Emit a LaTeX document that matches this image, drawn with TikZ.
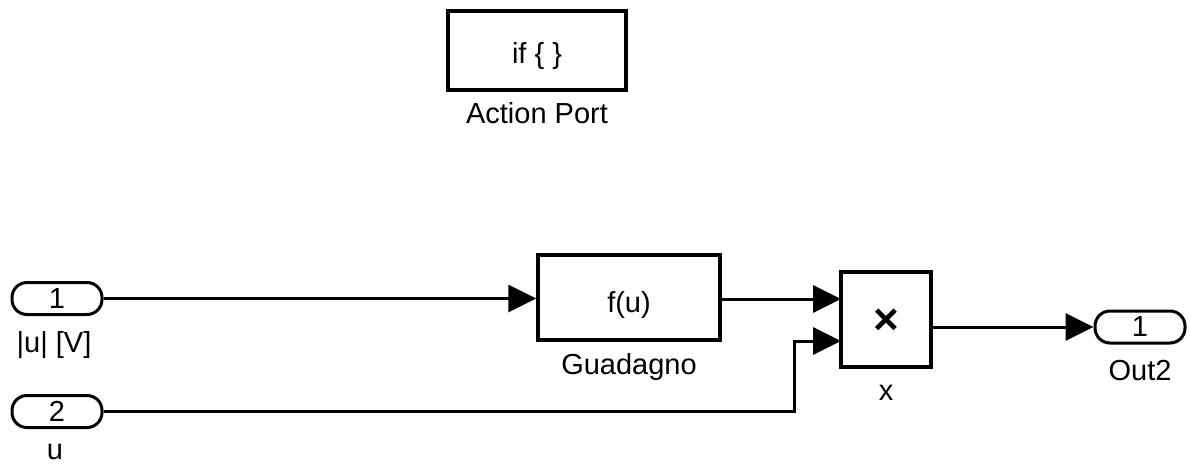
\documentclass[tikz,border=0pt]{standalone}
\usepackage{fontspec}
\setmainfont{Liberation Sans}
\usetikzlibrary{arrows.meta}
\begin{document}
\begin{tikzpicture}[x=1pt,y=-1pt,
  every node/.style={font=\fontsize{29pt}{34pt}\selectfont, inner sep=0pt},
  block/.style={draw, line width=3.5pt, rectangle, fill=white},
  port/.style={draw, line width=3pt, rounded corners=15pt, minimum width=90pt, minimum height=32pt},
  txt/.style={anchor=base},
  wire/.style={line width=3pt},
  sig/.style={wire, -{Triangle[length=28pt,width=27pt]}}
]
\useasboundingbox (0,0) rectangle (1190,466);

% Action port block
\node[block, minimum width=178pt, minimum height=79pt] (ap) at (537,50.5) {};
\node[txt] (aptxt) at (537,63) {if \{ \}};
\node[txt] (aplbl) at (537,123) {Action Port};

% Inports
\node[port] (in1) at (57,298.5) {1};
\node[txt] (in1lbl) at (54,352) {|u| [V]};
\node[port] (in2) at (57,411.5) {2};
\node[txt] (in2lbl) at (55,459) {u};

% Gain function block
\node[block, minimum width=182pt, minimum height=85pt] (gain) at (629,297.5) {};
\node[txt] (gaintxt) at (629,312) {f(u)};
\node[txt] (gainlbl) at (629,374) {Guadagno};

% Product block
\node[block, minimum width=90pt, minimum height=95pt] (prod) at (886,319.5) {};
\node[font=\fontsize{44pt}{48pt}\selectfont] (prodtxt) at (886,322) {\textbf{×}};
\node[txt] (prodlbl) at (886,400) {x};
\coordinate (p1) at (841,299);
\coordinate (p2) at (841,341);
\coordinate (pout) at (931,327);
\coordinate (bend) at (794,341);

% Outport
\node[port] (out) at (1140,327) {1};
\node[txt] (outlbl) at (1140,380) {Out2};

% Signal lines
\draw[sig] (in1.east) -- (gain.west |- in1.east);
\draw[sig] (gain.east |- p1) -- (p1);
\draw[sig] (in2.east) -| (bend) -- (p2);
\draw[sig] (pout) -- (out.west);
\end{tikzpicture}
\end{document}
